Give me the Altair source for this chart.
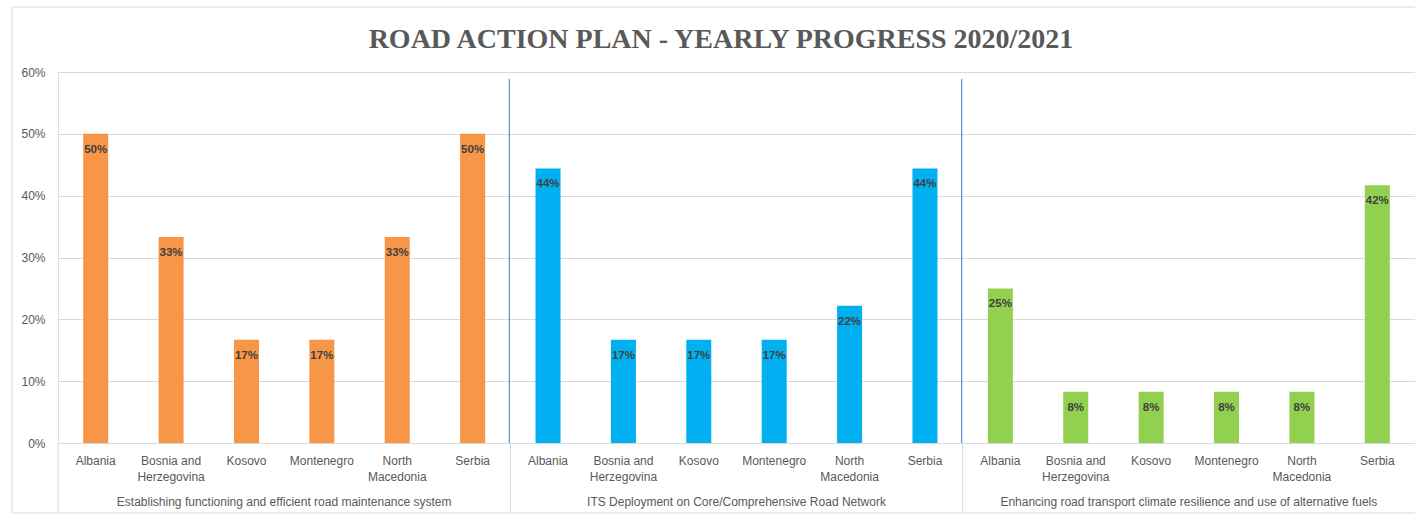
import altair as alt
import pandas as pd

title_text = "ROAD ACTION PLAN - YEARLY PROGRESS 2020/2021"
groups = [
    "Establishing functioning and efficient road maintenance system",
    "ITS Deployment on Core/Comprehensive Road Network",
    "Enhancing road transport climate resilience and use of alternative fuels",
]
countries = ["Albania", "Bosnia and\nHerzegovina", "Kosovo", "Montenegro", "North\nMacedonia", "Serbia"]
values_maintenance = [0.50, 0.333, 0.167, 0.167, 0.333, 0.50]
values_its = [0.444, 0.167, 0.167, 0.167, 0.222, 0.444]
values_climate = [0.25, 0.083, 0.083, 0.083, 0.083, 0.417]
group_colors = ["#F79646", "#00B0F0", "#92D050"]
y_ticks = [0, 0.1, 0.2, 0.3, 0.4, 0.5, 0.6]

rows = []
for gi, vals in enumerate([values_maintenance, values_its, values_climate]):
    for ci, (c, v) in enumerate(zip(countries, vals)):
        rows.append({"key": f"{gi}-{ci}", "group": groups[gi], "country": c, "value": v,
                     "gi": gi, "ci": ci})
df = pd.DataFrame(rows)
order = list(df["key"])

W, H = 1357, 371
xscale = alt.Scale(domain=order, paddingInner=0, paddingOuter=0)
yscale = alt.Scale(domain=[0, 0.6])
base = alt.Chart(df)

bars = base.mark_bar(size=25).encode(
    x=alt.X("key:N", scale=xscale, axis=None, sort=order),
    y=alt.Y("value:Q", scale=yscale,
            axis=alt.Axis(values=y_ticks, format=".0%", domain=False, ticks=False,
                          gridColor="#D9D9D9", labelColor="#595959", labelFontSize=12,
                          labelFont="Liberation Sans", labelPadding=13, title=None)),
    color=alt.Color("group:N", scale=alt.Scale(domain=groups, range=group_colors), legend=None),
)

labels = base.mark_text(baseline="middle", dy=16, fontWeight="bold", fontSize=11.5,
                        font="Liberation Sans", color="#404040").encode(
    x=alt.X("key:N", scale=xscale, sort=order),
    y=alt.Y("value:Q", scale=yscale),
    text=alt.Text("value:Q", format=".0%"),
)

cat_labels = base.mark_text(baseline="middle", fontSize=12, font="Liberation Sans",
                            color="#595959", lineBreak="\n", lineHeight=16).encode(
    x=alt.X("key:N", scale=xscale, sort=order),
    y=alt.value(H + 18),
    text="country:N",
)

grp_df = df[df["ci"] == 3]
grp_labels = alt.Chart(grp_df).mark_text(baseline="middle", fontSize=12, font="Liberation Sans",
                                         color="#595959").encode(
    x=alt.X("key:N", scale=xscale, sort=order, bandPosition=0),
    y=alt.value(H + 59),
    text="group:N",
)

sep_df = df[df["ci"] == 0]
separators = alt.Chart(sep_df).mark_rule(color="#D9D9D9", strokeWidth=1).encode(
    x=alt.X("key:N", scale=xscale, sort=order, bandPosition=0),
    y=alt.value(H),
    y2=alt.value(H + 70),
)

blue_df = df[(df["ci"] == 0) & (df["gi"] > 0)]
blue_lines = alt.Chart(blue_df).mark_rule(color="#5B8DD6", strokeWidth=1.2, xOffset=-1).encode(
    x=alt.X("key:N", scale=xscale, sort=order, bandPosition=0),
    y=alt.value(7),
    y2=alt.value(H),
)

border = alt.Chart(pd.DataFrame({"a": [0]})).mark_rect(
    fill=None, stroke="#D9D9D9", strokeWidth=1).encode(
    x=alt.value(-46), x2=alt.value(W + 10), y=alt.value(-65), y2=alt.value(H + 70),
)

title = alt.Chart(pd.DataFrame({"t": [title_text]})).mark_text(
    font="Liberation Serif", fontWeight="bold", fontSize=28, color="#595959",
    baseline="alphabetic", align="center").encode(
    x=alt.value(663), y=alt.value(-24), text="t:N",
)

chart = alt.layer(border, bars, labels, cat_labels, grp_labels, separators, blue_lines, title).properties(
    width=W, height=H, autosize=alt.AutoSizeParams(type="none"),
    padding={"left": 58, "top": 72, "right": 0, "bottom": 73},
).configure_view(stroke=None).configure(background="white")

chart.save("out.html", embed_options={"renderer": "svg", "actions": False})
